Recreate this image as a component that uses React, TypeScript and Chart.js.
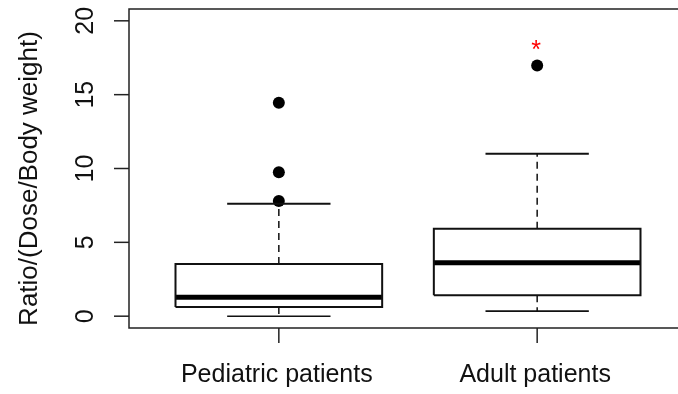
import React, { useEffect, useRef } from "react";
import { Chart, registerables } from "chart.js";

Chart.register(...registerables);

// ---- data ----
const categories = ["Pediatric patients", "Adult patients"];
const positions = [1, 2];
const lowerWhisker = [0.0, 0.34];
const q1 = [0.63, 1.42];
const median = [1.29, 3.61];
const q3 = [3.53, 5.92];
const upperWhisker = [7.61, 11.0];
const outliers = [
  [14.46, 9.74, 7.8],
  [16.97],
];
const yTicks = [0, 5, 10, 15, 20];
const yTitle = "Ratio/(Dose/Body weight)";
const markerGroups = [1];
const markerValues = [18.4];
const markerTexts = ["*"];

const X_MIN = 0.42;
const X_MAX = 2.58;
const Y_MIN = -0.8;
const Y_MAX = 20.8;
const BOX_HALF = 0.4;
const CAP_HALF = 0.2;
const FONT = "'Liberation Sans', Arial, sans-serif";
const INK = "#111";

function buildDatasets() {
  const ds: any[] = [];
  const lineBase = {
    showLine: true,
    pointRadius: 0,
    pointHoverRadius: 0,
    borderColor: INK,
    borderJoinStyle: "miter",
    borderCapStyle: "butt",
    fill: false,
    tension: 0,
  };
  positions.forEach((p, i) => {
    // whiskers (dashed)
    ds.push({
      ...lineBase,
      borderWidth: 1.5,
      borderDash: [7, 5],
      data: [
        { x: p, y: q3[i] },
        { x: p, y: upperWhisker[i] },
      ],
    });
    ds.push({
      ...lineBase,
      borderWidth: 1.5,
      borderDash: [7, 5],
      data: [
        { x: p, y: q1[i] },
        { x: p, y: lowerWhisker[i] },
      ],
    });
    // caps
    ds.push({
      ...lineBase,
      borderWidth: 2,
      data: [
        { x: p - CAP_HALF, y: upperWhisker[i] },
        { x: p + CAP_HALF, y: upperWhisker[i] },
      ],
    });
    ds.push({
      ...lineBase,
      borderWidth: 1.6,
      data: [
        { x: p - CAP_HALF, y: lowerWhisker[i] },
        { x: p + CAP_HALF, y: lowerWhisker[i] },
      ],
    });
    // box
    ds.push({
      ...lineBase,
      borderWidth: 2,
      data: [
        { x: p - BOX_HALF, y: q1[i] },
        { x: p + BOX_HALF, y: q1[i] },
        { x: p + BOX_HALF, y: q3[i] },
        { x: p - BOX_HALF, y: q3[i] },
        { x: p - BOX_HALF, y: q1[i] },
      ],
    });
    // median
    ds.push({
      ...lineBase,
      borderWidth: 5,
      borderColor: "#000",
      data: [
        { x: p - BOX_HALF, y: median[i] },
        { x: p + BOX_HALF, y: median[i] },
      ],
    });
    // outliers
    ds.push({
      showLine: false,
      pointRadius: 6,
      pointHoverRadius: 6,
      pointBackgroundColor: "#000",
      pointBorderWidth: 0,
      borderColor: "#000",
      data: outliers[i].map((v) => ({ x: p, y: v })),
    });
  });
  return ds;
}

const axesPlugin = {
  id: "rAxes",
  afterDraw(chart: any) {
    const { ctx, chartArea, scales } = chart;
    const xs = scales.x;
    const ys = scales.y;
    ctx.save();
    // frame: top, left, bottom (right edge lies outside the picture)
    ctx.strokeStyle = "#222";
    ctx.lineWidth = 1.5;
    ctx.beginPath();
    ctx.moveTo(chartArea.right, chartArea.top);
    ctx.lineTo(chartArea.left, chartArea.top);
    ctx.lineTo(chartArea.left, chartArea.bottom);
    ctx.lineTo(chartArea.right, chartArea.bottom);
    ctx.stroke();

    // y ticks
    ctx.fillStyle = INK;
    ctx.lineWidth = 1.5;
    ctx.font = `25px ${FONT}`;
    ctx.textAlign = "center";
    ctx.textBaseline = "alphabetic";
    yTicks.forEach((t) => {
      const y = ys.getPixelForValue(t);
      ctx.beginPath();
      ctx.moveTo(chartArea.left - 15, y);
      ctx.lineTo(chartArea.left, y);
      ctx.stroke();
      ctx.save();
      ctx.translate(chartArea.left - 36, y);
      ctx.rotate(-Math.PI / 2);
      ctx.fillText(String(t), 0, 0);
      ctx.restore();
    });

    // x ticks and labels
    categories.forEach((c, i) => {
      const x = xs.getPixelForValue(positions[i]);
      ctx.beginPath();
      ctx.moveTo(x, chartArea.bottom);
      ctx.lineTo(x, chartArea.bottom + 15);
      ctx.stroke();
      ctx.fillText(c, x - 2, chartArea.bottom + 54);
    });

    // y title
    ctx.font = `26px ${FONT}`;
    const midY = (ys.getPixelForValue(Y_MIN) + ys.getPixelForValue(Y_MAX)) / 2;
    ctx.save();
    ctx.translate(37, midY + 10);
    ctx.rotate(-Math.PI / 2);
    ctx.fillText(yTitle, 0, 0);
    ctx.restore();

    // significance markers
    ctx.fillStyle = "#ff0000";
    ctx.font = `25px ${FONT}`;
    markerGroups.forEach((g, k) => {
      const x = xs.getPixelForValue(positions[g]);
      const y = ys.getPixelForValue(markerValues[k]);
      ctx.fillText(markerTexts[k], x - 1, y + 14);
    });
    ctx.restore();
  },
};

export default function App() {
  const ref = useRef<HTMLCanvasElement>(null);
  useEffect(() => {
    if (!ref.current) return;
    const chart = new Chart(ref.current, {
      type: "scatter",
      data: { datasets: buildDatasets() },
      options: {
        animation: false,
        responsive: false,
        devicePixelRatio: 1,
        layout: { padding: { left: 129, top: 9, right: 13, bottom: 66 } },
        scales: {
          x: { type: "linear", min: X_MIN, max: X_MAX, display: false },
          y: { type: "linear", min: Y_MIN, max: Y_MAX, display: false },
        },
        plugins: {
          legend: { display: false },
          tooltip: { enabled: false },
        },
        events: [],
      },
      plugins: [axesPlugin],
    } as any);
    return () => chart.destroy();
  }, []);
  return (
    <div
      style={{
        position: "absolute",
        left: 0,
        top: 0,
        width: 678,
        height: 394,
        overflow: "hidden",
        background: "#fff",
      }}
    >
      <canvas ref={ref} width={700} height={394} style={{ display: "block" }} />
    </div>
  );
}
